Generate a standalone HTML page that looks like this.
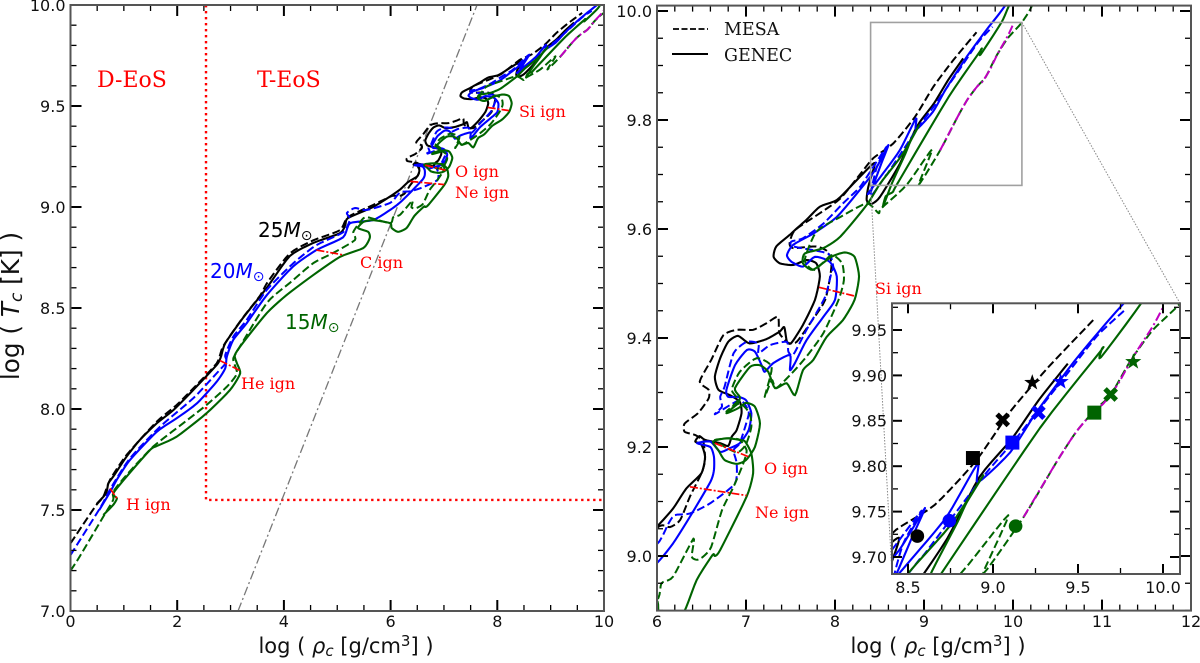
<!DOCTYPE html>
<html lang="en">
<head>
<meta charset="utf-8">
<title>Stellar core evolution tracks</title>
<style>
html,body{margin:0;padding:0;background:#fff;overflow:hidden;width:1200px;height:663px;}
svg{display:block;overflow:hidden;}
text{font-family:"DejaVu Sans","Liberation Sans",sans-serif;}
.serif{font-family:"DejaVu Serif","Liberation Serif",serif;}
.ign{fill:#f00;font-size:16px;}
.mass{font-size:20px;}
.axis-label{font-size:21px;fill:#111;}
</style>
</head>
<body>
<svg id="chart" width="1200" height="663" viewBox="0 0 1200 663" xmlns="http://www.w3.org/2000/svg">
  <rect width="1200" height="663" fill="#fff"/>

  <g id="left-panel">
    <g id="left-guides"></g>
    <g id="left-curves"></g>
    <g id="left-axes"></g>
    <text class="serif" x="97" y="87" font-size="22" fill="#f00">D-EoS</text>
    <text class="serif" x="257" y="87" font-size="22" fill="#f00">T-EoS</text>
    <text class="serif ign" x="126" y="510">H ign</text>
    <text class="serif ign" x="241" y="389">He ign</text>
    <text class="serif ign" x="360" y="268">C ign</text>
    <text class="serif ign" x="455" y="177">O ign</text>
    <text class="serif ign" x="455" y="198">Ne ign</text>
    <text class="serif ign" x="519" y="117">Si ign</text>
    <text class="mass" x="258" y="237" fill="#000">25<tspan font-style="italic">M</tspan><tspan font-size="14" dy="3">⊙</tspan></text>
    <text class="mass" x="210" y="278" fill="#00f">20<tspan font-style="italic">M</tspan><tspan font-size="14" dy="3">⊙</tspan></text>
    <text class="mass" x="285" y="329" fill="#006400">15<tspan font-style="italic">M</tspan><tspan font-size="14" dy="3">⊙</tspan></text>
    <text class="axis-label" x="346" y="653" text-anchor="middle">log ( <tspan font-style="italic">ρ</tspan><tspan font-style="italic" font-size="15" dy="3">c</tspan><tspan dy="-3"> [g/cm</tspan><tspan font-size="15" dy="-7">3</tspan><tspan dy="7">] )</tspan></text>
    <text class="axis-label" transform="translate(19,306) rotate(-90)" text-anchor="middle" style="font-size:24.7px">log ( <tspan font-style="italic">T</tspan><tspan font-style="italic" font-size="17" dy="3">c</tspan><tspan dy="-3"> [K] )</tspan></text>
  </g>

  <g id="right-panel">
    <g id="right-curves"></g>
    <g id="right-axes"></g>
    <g id="zoom-guides"></g>
    <text class="serif ign" x="875" y="294">Si ign</text>
    <text class="serif ign" x="764" y="474">O ign</text>
    <text class="serif ign" x="755" y="518">Ne ign</text>
    <g>
      <line x1="673" y1="29" x2="708" y2="29" stroke="#000" stroke-width="1.8" stroke-dasharray="6 2.5"/>
      <text class="serif" x="724" y="35" font-size="17.5" fill="#111">MESA</text>
      <line x1="672" y1="54" x2="708" y2="54" stroke="#000" stroke-width="2"/>
      <text class="serif" x="724" y="61" font-size="17.5" fill="#111">GENEC</text>
    </g>
    <text class="axis-label" x="938" y="653" text-anchor="middle">log ( <tspan font-style="italic">ρ</tspan><tspan font-style="italic" font-size="15" dy="3">c</tspan><tspan dy="-3"> [g/cm</tspan><tspan font-size="15" dy="-7">3</tspan><tspan dy="7">] )</tspan></text>
  </g>

  <g id="inset-panel">
    <rect x="892" y="303.3" width="288" height="270.7" fill="#fff"/>
    <g id="inset-curves"></g>
    <g id="inset-markers"></g>
    <g id="inset-axes"></g>
  </g>
</svg>
<script>
// ---- Data: log(rho_c) and log(T_c) along each track ----
const rho25Genec = [.49,.665,.71,.80,1.05,1.30,1.615,1.93,2.30,2.74,
  2.82,2.90,3.23,3.68,4.11,4.55,5.05,5.15,5.2,5.67,
  6.0,6.18,6.33,6.50,6.54,6.5,6.43,6.476,6.54,6.71,
  6.8,6.84,6.895,6.95,6.93,6.82,6.69,6.65,6.71,6.80,
  6.91,7.04,7.23,7.38,7.43,7.46,7.51,7.64,7.775,7.83,
  7.79,7.68,7.53,7.38,7.31,7.34,7.49,7.57,7.68,7.83,
  8.02,8.21,8.39,8.449,8.375,8.356,8.41,8.506,8.73,8.92,
  9.11,9.27,9.44];
const tc25Genec = [7.53,7.582,7.632,7.665,7.764,7.847,7.929,7.995,8.094,8.218,
  8.259,8.325,8.45,8.60,8.757,8.822,8.87,8.91,8.945,9.0,
  9.054,9.087,9.124,9.152,9.182,9.204,9.21,9.22,9.213,9.207,
  9.202,9.219,9.231,9.262,9.283,9.295,9.305,9.329,9.363,9.393,
  9.404,9.39,9.398,9.412,9.42,9.393,9.391,9.424,9.47,9.513,
  9.537,9.543,9.534,9.537,9.549,9.568,9.589,9.601,9.617,9.641,
  9.653,9.684,9.714,9.72,9.678,9.653,9.646,9.659,9.72,9.788,
  9.83,9.873,9.913];

const rho25Mesa = [0,.46,.615,.74,1.05,1.615,1.99,2.30,2.74,2.86,
  3.21,3.55,3.7,4.11,4.55,5.05,5.2,5.67,6.03,6.146,
  6.26,6.37,6.50,6.54,6.52,6.43,6.31,6.31,6.46,6.58,
  6.58,6.48,6.61,6.745,6.895,7.08,7.23,7.36,7.375,7.476,
  7.57,7.72,7.89,7.96,7.92,7.79,7.53,7.49,7.55,7.83,
  8.06,8.28,8.43,8.655,8.90,9.105,9.33,9.59];
const tc25Mesa = [7.335,7.516,7.566,7.649,7.772,7.937,8.02,8.102,8.226,8.31,
  8.445,8.56,8.63,8.77,8.835,8.885,8.95,9.01,9.055,9.053,
  9.066,9.109,9.152,9.176,9.21,9.222,9.228,9.243,9.262,9.289,
  9.305,9.32,9.36,9.405,9.415,9.415,9.427,9.439,9.409,9.391,
  9.393,9.427,9.47,9.531,9.558,9.568,9.565,9.574,9.598,9.629,
  9.656,9.70,9.73,9.757,9.806,9.861,9.91,9.961];

const rho20Genec = [.54,.77,.866,1.115,1.62,1.99,2.37,2.74,2.90,2.93,
  3.05,3.30,3.68,4.17,4.61,5.11,5.24,5.67,6.0,6.18,
  6.37,6.6,6.64,6.64,6.6,6.45,6.6,6.71,6.82,6.93,
  7.03,7.06,7.0,6.91,6.8,6.78,6.876,7.01,7.10,7.176,
  7.21,7.307,7.494,7.494,7.55,7.68,7.87,8.0,8.02,7.94,
  7.775,7.64,7.51,7.46,7.53,7.76,8.02,8.28,8.45,8.6,
  8.52,8.41,8.37,8.54,8.73,8.91,8.91,9.1,9.25,9.48,
  9.70,9.85,10.0];
const tc20Genec = [7.5,7.602,7.649,7.748,7.888,7.954,8.028,8.135,8.201,8.259,
  8.342,8.424,8.564,8.705,8.787,8.85,8.92,8.935,8.987,9.023,
  9.072,9.136,9.158,9.182,9.2,9.207,9.21,9.191,9.198,9.207,
  9.231,9.262,9.286,9.292,9.292,9.305,9.35,9.378,9.375,9.35,
  9.338,9.354,9.369,9.341,9.354,9.396,9.439,9.47,9.513,9.54,
  9.549,9.531,9.54,9.552,9.571,9.592,9.622,9.672,9.708,9.754,
  9.72,9.672,9.665,9.702,9.745,9.803,9.782,9.815,9.858,9.916,
  9.965,9.996,10.03];

const rho20Mesa = [0,.55,.77,1.115,1.68,2.3,2.74,2.93,2.9,3.05,
  3.3,3.68,4.17,4.6,5.11,5.24,5.18,5.33,5.55,5.99,
  6.13,6.2,6.37,6.6,6.876,6.895,6.86,6.93,7.007,7.03,
  6.93,6.65,6.73,6.71,6.76,6.86,7.007,7.14,7.14,7.27,
  7.457,7.476,7.53,7.68,7.83,7.9,7.96,7.98,7.92,7.53,
  7.51,7.64,7.87,8.09,8.28,8.43,8.58,8.47,8.40,8.57,
  8.6,8.94,9.12,9.26,9.40,9.61,9.77];
const tc20Mesa = [7.277,7.508,7.615,7.756,7.913,8.053,8.177,8.234,8.267,8.358,
  8.44,8.59,8.72,8.81,8.875,8.94,8.97,8.995,8.985,9.02,
  9.06,9.075,9.078,9.097,9.133,9.17,9.194,9.207,9.246,9.265,
  9.286,9.26,9.274,9.292,9.311,9.372,9.393,9.39,9.372,9.387,
  9.393,9.375,9.369,9.415,9.457,9.48,9.52,9.531,9.555,9.568,
  9.577,9.583,9.61,9.647,9.677,9.714,9.751,9.714,9.66,9.698,
  9.704,9.788,9.827,9.86,9.893,9.943,9.971];

const rho15Genec = [.615,.80,.87,.8,1.05,1.49,1.62,1.99,2.55,2.99,
  3.18,3.12,3.08,3.23,3.68,4.05,4.55,5.05,5.49,5.61,
  5.58,5.39,5.49,5.67,5.99,6.02,6.14,6.3,6.446,6.625,
  6.65,6.71,7.007,7.08,7.06,6.99,6.93,6.78,6.63,6.69,
  6.76,6.895,7.0,7.10,7.157,7.10,7.0,6.91,6.78,6.91,
  6.93,6.876,7.045,7.157,7.25,7.326,7.457,7.55,7.64,7.757,
  7.906,8.09,8.22,8.27,8.22,8.11,7.96,7.75,7.64,7.66,
  7.87,8.06,8.356,8.51,8.75,8.943,8.845,8.79,8.64,8.54,
  8.57,8.65,8.70,9.276,9.63,9.64,9.635,9.87,9.95,10.05];
const tc15Genec = [7.475,7.525,7.558,7.582,7.665,7.797,7.817,7.863,7.979,8.094,
  8.176,8.226,8.267,8.327,8.475,8.564,8.663,8.753,8.797,8.847,
  8.877,8.896,8.926,8.935,8.92,8.896,8.877,8.896,8.956,9.002,
  9.0,9.011,9.109,9.152,9.188,9.21,9.213,9.216,9.21,9.194,
  9.176,9.169,9.176,9.2,9.243,9.274,9.281,9.271,9.262,9.28,
  9.292,9.308,9.347,9.35,9.338,9.308,9.317,9.295,9.341,9.36,
  9.402,9.433,9.47,9.513,9.549,9.557,9.549,9.525,9.537,9.555,
  9.565,9.586,9.644,9.684,9.735,9.79,9.76,9.738,9.684,9.641,
  9.66,9.668,9.683,9.842,9.926,9.929,9.92,9.979,10.008,10.04];

const rho15Mesa = [0,.15,.615,.80,.8,1.05,1.55,2.11,2.55,2.93,
  3.12,3.05,3.12,3.68,4.11,4.55,4.92,5.33,5.3,5.43,
  5.55,5.99,6.05,6.18,6.41,6.39,6.45,6.52,6.61,6.73,
  6.86,6.97,7.007,6.93,6.82,6.65,6.71,6.9,7.0,7.06,
  7.04,6.93,6.78,6.91,6.84,6.93,7.12,7.29,7.21,7.29,
  7.34,7.53,7.68,7.87,8.04,8.1,8.08,7.96,7.77,7.66,
  7.79,8.06,8.356,8.49,8.52,8.806,9.09,8.94,9.18,9.375,
  9.49,9.6,9.69,9.786,9.826,9.94,10.09,10.19,10.3];
const tc15Mesa = [7.2,7.26,7.467,7.55,7.59,7.673,7.814,7.929,8.02,8.11,
  8.176,8.243,8.284,8.525,8.624,8.722,8.772,8.836,8.876,8.926,
  8.95,8.92,8.95,8.962,9.032,8.999,8.993,8.999,9.017,9.084,
  9.127,9.17,9.194,9.213,9.216,9.213,9.205,9.19,9.205,9.237,
  9.262,9.28,9.265,9.286,9.305,9.338,9.363,9.347,9.292,9.323,
  9.308,9.338,9.366,9.409,9.47,9.506,9.537,9.552,9.525,9.543,
  9.595,9.622,9.647,9.629,9.638,9.681,9.746,9.681,9.744,9.805,
  9.838,9.862,9.878,9.909,9.921,9.95,9.977,10.002,10.04];

const rhoMagenta = [9.18,9.375,9.49,9.6,9.65,9.737,9.826,9.94,10.0];
const tcMagenta = [9.744,9.805,9.838,9.862,9.869,9.891,9.921,9.954,9.975];

const ignitionNames = ['h','he','c','ne','o','si'];
const ignitionRhoA = [.74,2.8,4.61,6.37,6.65,7.82];
const ignitionTcA = [7.607,8.24,8.787,9.127,9.207,9.493];
const ignitionRhoB = [.87,3.18,5.13,7.007,7.03,8.22];
const ignitionTcB = [7.558,8.19,8.762,9.111,9.182,9.477];

const eosBoundaryRho = [2.54,2.54,10];
const eosBoundaryTc = [10,7.55,7.55];
const degeneracyRho = [3.14,7.62];
const degeneracyTc = [7,10];

const zoomBoxRho = [8.40,10.10];
const zoomBoxTc = [9.68,9.979];

const circleRho = [8.555,8.743,9.133];
const circleTc = [9.723,9.74,9.734];
const squareRho = [8.882,9.114,9.596];
const squareTc = [9.809,9.826,9.859];
const crossRho = [9.057,9.267,9.692];
const crossTc = [9.851,9.859,9.879];
const starRho = [9.231,9.398,9.825];
const starTc = [9.892,9.893,9.915];
const markerColors = ['#000','#00f','#006400'];

const leftXTicks = ['0','2','4','6','8','10'];
const leftYTicks = ['7.0','7.5','8.0','8.5','9.0','9.5','10.0'];
const rightXTicks = ['6','7','8','9','10','11','12'];
const rightYTicks = ['9.0','9.2','9.4','9.6','9.8','10.0'];
const insetXTicks = ['8.5','9.0','9.5','10.0'];
const insetYTicks = ['9.70','9.75','9.80','9.85','9.90','9.95'];

// ---- Rendering ----
const SVGNS = 'http://www.w3.org/2000/svg';
function make(parent, tag, attrs) {
  const el = document.createElementNS(SVGNS, tag);
  for (const k in attrs) el.setAttribute(k, attrs[k]);
  parent.appendChild(el);
  return el;
}
function linear(d0, d1, p0, p1) { return v => p0 + (v - d0) * (p1 - p0) / (d1 - d0); }

const leftAxes = {x: linear(0, 10, 70.5, 604), y: linear(7, 10, 611, 5),
  box: [70.5, 604, 5, 611], xMin: 0, xMax: 10, yMin: 7, yMax: 10,
  xMinor: .5, yMinor: .1, major: 11, minor: 6};
const rightAxes = {x: linear(6, 12, 657, 1191), y: linear(9, 10, 556, 11),
  box: [657, 1191, 5.6, 610.6], xMin: 6, xMax: 12, yMin: 8.9, yMax: 10.01,
  xMinor: .2, yMinor: .05, major: 11, minor: 6};
const insetAxes = {x: linear(8.5, 10, 908, 1163), y: linear(9.7, 9.95, 557, 330),
  box: [892, 1180, 303.3, 574], xMin: 8.406, xMax: 10.1, yMin: 9.681, yMax: 9.979,
  xMinor: .25, yMinor: .025, major: 10, minor: 6};

// Sample a gently smoothed curve through the data points (pixel space).
function smoothPixels(pts) {
  const out = [];
  const k = .32, steps = 5;
  for (let i = 0; i < pts.length - 1; i++) {
    const p0 = pts[Math.max(0, i - 1)], p1 = pts[i], p2 = pts[i + 1], p3 = pts[Math.min(pts.length - 1, i + 2)];
    const m1 = [k * (p2[0] - p0[0]), k * (p2[1] - p0[1])];
    const m2 = [k * (p3[0] - p1[0]), k * (p3[1] - p1[1])];
    for (let s = 0; s < steps; s++) {
      const t = s / steps, t2 = t * t, t3 = t2 * t;
      const a = 2 * t3 - 3 * t2 + 1, b = t3 - 2 * t2 + t, c = -2 * t3 + 3 * t2, d = t3 - t2;
      out.push([a * p1[0] + b * m1[0] + c * p2[0] + d * m2[0], a * p1[1] + b * m1[1] + c * p2[1] + d * m2[1]]);
    }
  }
  out.push(pts[pts.length - 1]);
  return out;
}
// Clip a pixel polyline to an axes box so nothing is drawn outside its panel.
function clipSegment(a, b, box) {
  const [l, r, t, bt] = box;
  const dx = b[0] - a[0], dy = b[1] - a[1];
  let u0 = 0, u1 = 1;
  const checks = [[-dx, a[0] - l], [dx, r - a[0]], [-dy, a[1] - t], [dy, bt - a[1]]];
  for (const [p, q] of checks) {
    if (p === 0) { if (q < 0) return null; continue; }
    const u = q / p;
    if (p < 0) { if (u > u1) return null; if (u > u0) u0 = u; }
    else { if (u < u0) return null; if (u < u1) u1 = u; }
  }
  return [[a[0] + u0 * dx, a[1] + u0 * dy], [a[0] + u1 * dx, a[1] + u1 * dy]];
}
function pathFrom(ax, rhos, tcs, smooth) {
  let pts = rhos.map((r, i) => [ax.x(r), ax.y(tcs[i])]);
  if (smooth) pts = smoothPixels(pts);
  let d = '', pen = null;
  for (let i = 0; i < pts.length - 1; i++) {
    const seg = clipSegment(pts[i], pts[i + 1], ax.box);
    if (!seg) { pen = null; continue; }
    if (!pen || Math.abs(pen[0] - seg[0][0]) > .01 || Math.abs(pen[1] - seg[0][1]) > .01) {
      d += 'M' + seg[0][0].toFixed(2) + ' ' + seg[0][1].toFixed(2);
    }
    d += 'L' + seg[1][0].toFixed(2) + ' ' + seg[1][1].toFixed(2);
    pen = seg[1];
  }
  return d;
}
const seriesList = [
  ['track-25-mesa', rho25Mesa, tc25Mesa, '#000', '8 3.5', 2],
  ['track-25-genec', rho25Genec, tc25Genec, '#000', '', 2.1],
  ['track-20-mesa', rho20Mesa, tc20Mesa, '#00f', '8 3.5', 2],
  ['track-20-genec', rho20Genec, tc20Genec, '#00f', '', 2.1],
  ['track-15-mesa', rho15Mesa, tc15Mesa, '#006400', '8 3.5', 2],
  ['track-15-genec', rho15Genec, tc15Genec, '#006400', '', 2.1],
  ['track-15-mesa-overlay', rhoMagenta, tcMagenta, '#c000c0', '9 3 2 3', 2]
];
function drawTracks(group, ax, prefix) {
  seriesList.forEach(s => {
    const el = make(group, 'path', {d: pathFrom(ax, s[1], s[2], true), fill: 'none', stroke: s[3],
      'stroke-width': s[5], 'stroke-linejoin': 'round', 'stroke-dasharray': s[4]});
    
    
  });
}
function drawIgnition(group, ax, prefix) {
  ignitionNames.forEach((n, i) => {
    const d = pathFrom(ax, [ignitionRhoA[i], ignitionRhoB[i]], [ignitionTcA[i], ignitionTcB[i]], false);
    if (!d) return;
    const el = make(group, 'path', {d: d, fill: 'none', stroke: '#f00',
      'stroke-width': 1.7, 'stroke-dasharray': '8 2 2 2'});
    
    
  });
}
function drawAxes(group, ax, xLabels, yLabels, fontSize, labelY, prefix) {
  const [l, r, t, b] = ax.box;
  const eps = 1e-6;
  function tick(x1, y1, x2, y2, w) {
    const el = make(group, 'line', {x1, y1, x2, y2, stroke: '#000', 'stroke-width': w});
    
    
  }
  const xMajor = xLabels.map(Number), yMajor = yLabels.map(Number);
  const isMajor = (v, list) => list.some(m => Math.abs(m - v) < 1e-4);
  const xStart = Math.ceil((ax.xMin - eps) / ax.xMinor) * ax.xMinor;
  const xCount = Math.floor((ax.xMax - xStart) / ax.xMinor + eps);
  for (let i = 0; i <= xCount; i++) {
    const v = xStart + i * ax.xMinor;
    const px = ax.x(v);
    const major = isMajor(v, xMajor);
    const len = major ? ax.major : ax.minor;
    tick(px, b, px, b - len, major ? 2 : 1.3);
    tick(px, t, px, t + len, major ? 2 : 1.3);
  }
  const yStart = Math.ceil((ax.yMin - eps) / ax.yMinor) * ax.yMinor;
  const yCount = Math.floor((ax.yMax - yStart) / ax.yMinor + eps);
  for (let i = 0; i <= yCount; i++) {
    const v = yStart + i * ax.yMinor;
    const py = ax.y(v);
    const major = isMajor(v, yMajor);
    const len = major ? ax.major : ax.minor;
    tick(l, py, l + len, py, major ? 2 : 1.3);
    tick(r, py, r - len, py, major ? 2 : 1.3);
  }
  xLabels.forEach(s => {
    const el = make(group, 'text', {x: ax.x(Number(s)), y: labelY, 'text-anchor': 'middle', 'font-size': fontSize, fill: '#111'});
    el.textContent = s;
    
    
  });
  yLabels.forEach(s => {
    const el = make(group, 'text', {x: l - 5, y: ax.y(Number(s)) + fontSize * .37, 'text-anchor': 'end', 'font-size': fontSize, fill: '#111'});
    el.textContent = s;
    
    
  });
  const frame = make(group, 'rect', {x: l, y: t, width: r - l, height: b - t, fill: 'none', stroke: '#555', 'stroke-width': 2});
  
  
}

// Left panel guides
const leftGuides = document.getElementById('left-guides');
const eosLine = make(leftGuides, 'path', {d: pathFrom(leftAxes, eosBoundaryRho, eosBoundaryTc, false), fill: 'none',
  stroke: '#f00', 'stroke-width': 2.4, 'stroke-dasharray': '2.4 3.6'});


const degLine = make(leftGuides, 'path', {d: pathFrom(leftAxes, degeneracyRho, degeneracyTc, false), fill: 'none',
  stroke: '#777', 'stroke-width': 1.3, 'stroke-dasharray': '9 3 2 3'});



drawTracks(document.getElementById('left-curves'), leftAxes, 'left-');
drawIgnition(document.getElementById('left-curves'), leftAxes, 'left-');
drawAxes(document.getElementById('left-axes'), leftAxes, leftXTicks, leftYTicks, 16, 627, 'left-');

drawTracks(document.getElementById('right-curves'), rightAxes, 'right-');
drawIgnition(document.getElementById('right-curves'), rightAxes, 'right-');
drawAxes(document.getElementById('right-axes'), rightAxes, rightXTicks, rightYTicks, 16, 627, 'right-');

// Zoom box and connectors
const zoomGroup = document.getElementById('zoom-guides');
const boxL = rightAxes.x(zoomBoxRho[0]), boxR = rightAxes.x(zoomBoxRho[1]);
const boxB = rightAxes.y(zoomBoxTc[0]), boxT = rightAxes.y(zoomBoxTc[1]);
const zoomBox = make(zoomGroup, 'rect', {x: boxL, y: boxT, width: boxR - boxL, height: boxB - boxT, fill: 'none', stroke: '#a0a0a0', 'stroke-width': 1.6});


const connectorLeft = make(zoomGroup, 'line', {x1: boxL, y1: boxB, x2: insetAxes.box[0], y2: insetAxes.box[3], stroke: '#888', 'stroke-width': 1, 'stroke-dasharray': '1.5 1.5'});


const connectorRight = make(zoomGroup, 'line', {x1: boxR, y1: boxT, x2: insetAxes.box[1], y2: insetAxes.box[2], stroke: '#888', 'stroke-width': 1, 'stroke-dasharray': '1.5 1.5'});



// Inset
drawTracks(document.getElementById('inset-curves'), insetAxes, 'inset-');
drawAxes(document.getElementById('inset-axes'), insetAxes, insetXTicks, insetYTicks, 16, 593, 'inset-');

const markerGroup = document.getElementById('inset-markers');
circleRho.forEach((r, i) => {
  const el = make(markerGroup, 'circle', {cx: insetAxes.x(r), cy: insetAxes.y(circleTc[i]), r: 6.8, fill: markerColors[i]});
  
  
});
squareRho.forEach((r, i) => {
  const el = make(markerGroup, 'rect', {x: insetAxes.x(r) - 7, y: insetAxes.y(squareTc[i]) - 7, width: 14, height: 14, fill: markerColors[i]});
  
  
});
crossRho.forEach((r, i) => {
  const cx = insetAxes.x(r), cy = insetAxes.y(crossTc[i]), h = 5.6;
  const el = make(markerGroup, 'path', {d: `M${cx - h} ${cy - h}L${cx + h} ${cy + h}M${cx - h} ${cy + h}L${cx + h} ${cy - h}`,
    stroke: markerColors[i], 'stroke-width': 5, fill: 'none'});
  
  
});
starRho.forEach((r, i) => {
  const cx = insetAxes.x(r), cy = insetAxes.y(starTc[i]);
  const pts = [];
  for (let k = 0; k < 10; k++) {
    const rad = k % 2 ? 3.4 : 8.5;
    const a = -Math.PI / 2 + k * Math.PI / 5;
    pts.push((cx + rad * Math.cos(a)).toFixed(2) + ',' + (cy + rad * Math.sin(a)).toFixed(2));
  }
  const el = make(markerGroup, 'polygon', {points: pts.join(' '), fill: markerColors[i]});
  
  
});
</script>
</body>
</html>
